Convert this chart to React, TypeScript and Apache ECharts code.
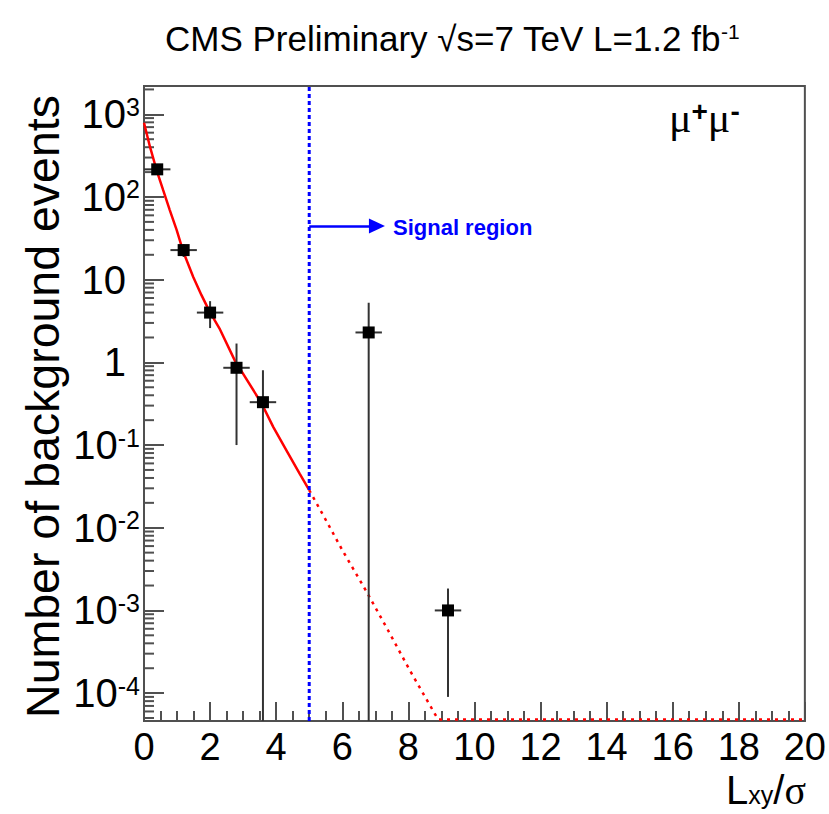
import React, { useEffect, useRef } from "react";
import * as echarts from "echarts";

// Measured background counts per L_xy/sigma bin
const binCenters = [0.4, 1.2, 2.0, 2.8, 3.6, 6.8, 9.2];
const binHalfWidths = [0.4, 0.4, 0.4, 0.4, 0.4, 0.4, 0.4];
const counts = [216, 22.8, 4.0, 0.86, 0.33, 2.3, 0.001];
const errUp = [15, 4, 1.5, 0.83, 0.475, 2.95, 0.00084];
const errDown = [15, 4, 1.4, 0.76, 0.33, 2.3, 0.00091];

// Fit function: fitted range (solid) and its extrapolation (dotted)
const fitX = [0, 0.18, 0.38, 0.58, 0.78, 0.99, 1.19, 1.49, 1.74, 1.99, 2.3, 2.75, 3.56, 3.91, 4.31, 4.71, 5.0];
const fitY = [790, 406, 212, 121, 69.5, 39.8, 21.7, 10.8, 6.5, 4.08, 2.5, 1.05, 0.318, 0.166, 0.0865, 0.0452, 0.0285];
const extrapX = [5.0, 5.47, 6.02, 6.73, 7.38, 8.04, 8.9, 20];
const extrapY = [0.0285, 0.0131, 0.0052, 0.0017, 0.00058, 0.00019, 0.000048, 0.000048];

// Signal region boundary and arrow
const signalCut = 5;
const arrowY = 44.5;
const arrowEndX = 7.05;

// Axis ranges and tick labels
const X_MIN = 0;
const X_MAX = 20;
const X_STEP = 2;
const Y_MIN = 4.6e-5;
const Y_MAX = 2200;
const yDecades = [-4, -3, -2, -1, 0, 1, 2, 3];

const FONT = "'Liberation Sans', Arial, Helvetica, sans-serif";
const SERIF = "'Liberation Serif', 'DejaVu Serif', serif";
const FRAME = "#505050";
const X_LABEL_SIZE = 38;
const Y_LABEL_SIZE = 40;

function minorTickValues(): number[] {
  const out: number[] = [];
  for (let k = -5; k <= 3; k++) {
    for (let m = 2; m <= 9; m++) {
      const v = m * Math.pow(10, k);
      if (v > Y_MIN && v < Y_MAX) out.push(v);
    }
  }
  return out;
}

export default function App() {
  const ref = useRef<HTMLDivElement>(null);

  useEffect(() => {
    if (!ref.current) return;
    const chart = echarts.init(ref.current, null, { renderer: "svg" });

    const points = binCenters.map((x, i) => [x, counts[i], binHalfWidths[i], errUp[i], errDown[i]]);
    const fitData = fitX.map((x, i) => [x, fitY[i]]);
    const extrapData = extrapX.map((x, i) => [x, extrapY[i]]);

    const option: any = {
      animation: false,
      backgroundColor: "#ffffff",
      grid: {
        left: 144,
        top: 86,
        right: 23,
        bottom: 93,
        show: true,
        borderColor: FRAME,
        borderWidth: 2,
        backgroundColor: "transparent",
      },
      xAxis: {
        type: "value",
        min: X_MIN,
        max: X_MAX,
        interval: X_STEP,
        axisLine: { show: true, onZero: false, lineStyle: { color: FRAME, width: 2 } },
        axisTick: { show: true, inside: true, length: 19, lineStyle: { color: FRAME, width: 2 } },
        minorTick: { show: true, splitNumber: 4, length: 10, lineStyle: { color: FRAME, width: 2 } },
        splitLine: { show: false },
        axisLabel: { color: "#000", fontSize: X_LABEL_SIZE, fontFamily: FONT, margin: 7, lineHeight: 38 },
      },
      yAxis: {
        type: "log",
        logBase: 10,
        min: Y_MIN,
        max: Y_MAX,
        splitNumber: 8,
        axisLine: { show: true, lineStyle: { color: FRAME, width: 2 } },
        axisTick: { show: true, inside: true, length: 20, lineStyle: { color: FRAME, width: 2 } },
        splitLine: { show: false },
        axisLabel: {
          color: "#000",
          fontSize: Y_LABEL_SIZE,
          fontFamily: FONT,
          margin: 4,
          showMinLabel: false,
          showMaxLabel: false,
          formatter: (v: number) => {
            const e = Math.round(Math.log10(v));
            if (!yDecades.includes(e)) return "";
            if (e === 0) return "{p|1}";
            if (e === 1) return "{p|10}";
            return "10{sup|" + e + "}";
          },
          rich: {
            p: { fontSize: Y_LABEL_SIZE, fontFamily: FONT, color: "#000", padding: [0, 14, 0, 0] },
            sup: { fontSize: 25, fontFamily: FONT, color: "#000", verticalAlign: "top", lineHeight: 22 },
          },
        },
      },
      series: [
        {
          // minor ticks of the logarithmic axis (2..9 x 10^k)
          type: "custom",
          silent: true,
          z: 3,
          data: minorTickValues().map((v) => [X_MIN, v]),
          renderItem: (_params: any, api: any) => {
            const p = api.coord([api.value(0), api.value(1)]);
            return {
              type: "line",
              shape: { x1: p[0], y1: p[1], x2: p[0] + 10, y2: p[1] },
              style: { stroke: FRAME, lineWidth: 2 },
            };
          },
        },
        {
          type: "line",
          name: "fit",
          data: fitData,
          showSymbol: false,
          smooth: false,
          lineStyle: { color: "#ff0000", width: 2.5 },
          z: 4,
        },
        {
          type: "line",
          name: "extrapolation",
          data: extrapData,
          showSymbol: false,
          lineStyle: { color: "#ff0000", width: 2.5, type: [3, 5] },
          z: 4,
        },
        {
          type: "line",
          name: "cut",
          data: [
            [signalCut, Y_MIN],
            [signalCut, Y_MAX],
          ],
          showSymbol: false,
          lineStyle: { color: "#0000ff", width: 3, type: [4, 3] },
          z: 5,
          markLine: {
            silent: true,
            symbol: ["none", "triangle"],
            symbolSize: [15, 16],
            lineStyle: { color: "#0000ff", width: 2.5, type: "solid" },
            label: { show: false },
            data: [
              [
                { coord: [signalCut, arrowY] },
                { coord: [arrowEndX, arrowY] },
              ],
            ],
          },
        },
        {
          type: "custom",
          name: "data",
          z: 6,
          data: points,
          renderItem: (_params: any, api: any) => {
            const x = api.value(0);
            const y = api.value(1);
            const xe = api.value(2);
            const up = api.value(3);
            const dn = api.value(4);
            const lo = Math.max(y - dn, Y_MIN);
            const c = api.coord([x, y]);
            const l = api.coord([x - xe, y]);
            const r = api.coord([x + xe, y]);
            const t = api.coord([x, y + up]);
            const b = api.coord([x, lo]);
            const s = 12;
            return {
              type: "group",
              children: [
                { type: "line", shape: { x1: l[0], y1: l[1], x2: r[0], y2: r[1] }, style: { stroke: "#333", lineWidth: 2 } },
                { type: "line", shape: { x1: t[0], y1: t[1], x2: b[0], y2: b[1] }, style: { stroke: "#333", lineWidth: 2 } },
                { type: "rect", shape: { x: c[0] - s / 2, y: c[1] - s / 2, width: s, height: s }, style: { fill: "#000" } },
              ],
            };
          },
        },
      ],
      graphic: [
        {
          type: "text",
          left: 165,
          top: 21,
          style: {
            text: "CMS Preliminary {r|√}s=7 TeV L=1.2 fb{sup|-1}",
            fontSize: 35,
            fontFamily: FONT,
            fill: "#000",
            rich: {
              r: { fontSize: 35, fontFamily: FONT },
              sup: { fontSize: 21, fontFamily: FONT, verticalAlign: "top", lineHeight: 18 },
            },
          },
        },
        {
          type: "text",
          x: 43,
          y: 95,
          rotation: Math.PI / 2,
          style: {
            text: "Number of background events",
            fontSize: 46.5,
            fontFamily: FONT,
            fill: "#000",
            align: "right",
            verticalAlign: "middle",
          },
        },
        {
          type: "text",
          x: 806,
          y: 790,
          style: {
            text: "L{sub|xy}/{sig|σ}",
            fontSize: 40,
            lineHeight: 34,
            fontFamily: FONT,
            fill: "#000",
            align: "right",
            verticalAlign: "middle",
            rich: {
              sub: { fontSize: 25, fontFamily: FONT, verticalAlign: "bottom", lineHeight: 28 },
              sig: { fontSize: 40, lineHeight: 34, fontFamily: SERIF },
            },
          },
        },
        {
          type: "text",
          x: 669,
          y: 118,
          style: {
            text: "μ{sup|+}μ{sup|-}",
            fontSize: 42,
            fontFamily: SERIF,
            fill: "#000",
            verticalAlign: "middle",
            rich: {
              sup: { fontSize: 28, fontFamily: FONT, fontWeight: "bold", verticalAlign: "top", lineHeight: 20 },
            },
          },
        },
        {
          type: "text",
          x: 393,
          y: 227,
          style: {
            text: "Signal region",
            fontSize: 22,
            fontWeight: "bold",
            fontFamily: FONT,
            fill: "#0000ff",
            verticalAlign: "middle",
          },
        },
      ],
    };

    chart.setOption(option);
    return () => chart.dispose();
  }, []);

  return <div ref={ref} style={{ width: 829, height: 814, position: "absolute", left: 0, top: 0 }} />;
}
